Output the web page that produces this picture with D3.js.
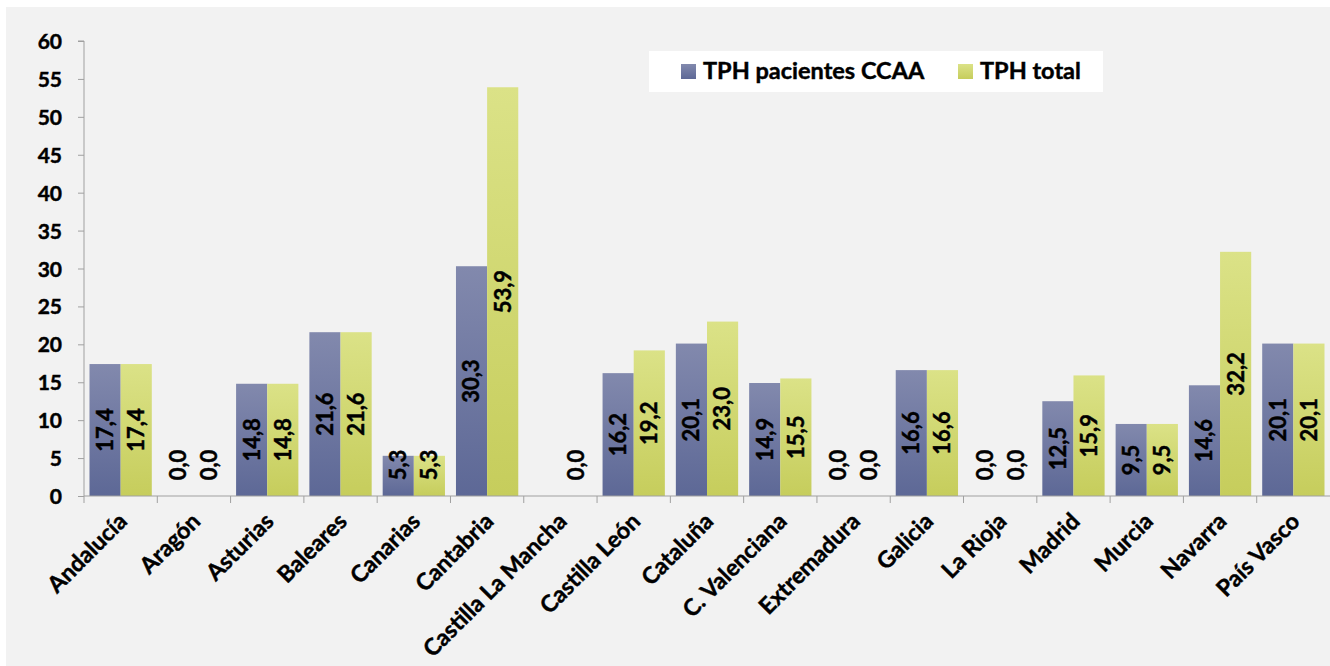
<!DOCTYPE html>
<html>
<head>
<meta charset="utf-8">
<script src="https://cdn.jsdelivr.net/npm/d3@7"></script>
<style>
  body { margin: 0; background: #fff; }
  text { font-family: Lato, "Open Sans", sans-serif; font-weight: bold; fill: #000;
         stroke: #000; stroke-width: 0.45px; }
</style>
</head>
<body>
<svg id="chart" width="1330" height="666"></svg>
<script>
var categories = ["Andalucía", "Aragón", "Asturias", "Baleares", "Canarias", "Cantabria",
  "Castilla La Mancha", "Castilla León", "Cataluña", "C. Valenciana", "Extremadura",
  "Galicia", "La Rioja", "Madrid", "Murcia", "Navarra", "País Vasco"];
var tphPacientes = [17.4, 0.0, 14.8, 21.6, 5.3, 30.3, null, 16.2, 20.1, 14.9, 0.0, 16.6, 0.0, 12.5, 9.5, 14.6, 20.1];
var tphTotal = [17.4, 0.0, 14.8, 21.6, 5.3, 53.9, 0.0, 19.2, 23.0, 15.5, 0.0, 16.6, 0.0, 15.9, 9.5, 32.2, 20.1];
var seriesNames = ["TPH pacientes CCAA", "TPH total"];
var yTicks = [0, 5, 10, 15, 20, 25, 30, 35, 40, 45, 50, 55, 60];

var svg = d3.select("#chart"),
    margin = {top: 41, right: 0, bottom: 170, left: 84},
    width = +svg.attr("width") - margin.left - margin.right,
    height = +svg.attr("height") - margin.top - margin.bottom;

// background panel
svg.append("rect")
  .attr("x", 6).attr("y", 7)
  .attr("width", 1330 - 6).attr("height", 666 - 7)
  .attr("fill", "#f2f2f2");

var defs = svg.append("defs");
var grads = [["gBlue", "#8289ad", "#5d6896"], ["gYel", "#dbe287", "#c6cd5c"]];
grads.forEach(function(g) {
  var lg = defs.append("linearGradient").attr("id", g[0])
    .attr("x1", 0).attr("y1", 0).attr("x2", 0).attr("y2", 1);
  lg.append("stop").attr("offset", "0%").attr("stop-color", g[1]);
  lg.append("stop").attr("offset", "100%").attr("stop-color", g[2]);
});
var fills = ["url(#gBlue)", "url(#gYel)"];

var x0 = d3.scaleBand().domain(categories).range([0, width]).paddingInner(0).paddingOuter(0);
var x1 = d3.scaleBand().domain([0, 1]).range([5.5, x0.bandwidth() - 5.5]);
var y = d3.scaleLinear().domain([0, 60]).range([height, 0]);

var g = svg.append("g").attr("transform", "translate(" + margin.left + "," + margin.top + ")");

var data = categories.map(function(c, i) {
  return {cat: c, vals: [tphPacientes[i], tphTotal[i]]};
});

var groups = g.selectAll(".grp").data(data).enter().append("g")
  .attr("class", "grp")
  .attr("transform", function(d) { return "translate(" + x0(d.cat) + ",0)"; });

groups.selectAll("rect").data(function(d) {
    return d.vals.map(function(v, j) { return {v: v, j: j}; });
  }).enter().append("rect")
  .filter(function(d) { return d.v !== null && d.v > 0; })
  .attr("x", function(d) { return x1(d.j); })
  .attr("y", function(d) { return y(d.v); })
  .attr("width", x1.bandwidth())
  .attr("height", function(d) { return height - y(d.v); })
  .attr("fill", function(d) { return fills[d.j]; });

// value labels, rotated
groups.selectAll(".lbl").data(function(d) {
    return d.vals.map(function(v, j) { return {v: v, j: j}; }).filter(function(e) { return e.v !== null; });
  }).enter().append("text")
  .attr("class", "lbl")
  .attr("transform", function(d) {
    var cx = x1(d.j) + x1.bandwidth() / 2;
    var cy = Math.min((y(d.v) + height) / 2, height - 31);
    return "translate(" + cx + "," + cy + ") rotate(-90)";
  })
  .attr("text-anchor", "middle")
  .attr("dy", "0.36em")
  .style("font-size", "22px")
  .text(function(d) { return d3.format(".1f")(d.v).replace(".", ","); });

// y axis
var yAxis = g.append("g").attr("class", "axis")
  .call(d3.axisLeft(y).tickValues(yTicks).tickSize(6).tickPadding(16));
yAxis.select(".domain").attr("stroke", "#a0a0a0").attr("d", "M0," + height + "V0H-6");
yAxis.selectAll(".tick line").attr("stroke", "#a0a0a0");
yAxis.selectAll(".tick text").style("font-size", "21px").attr("dy", "0.36em");

// x axis with ticks at category boundaries
var xAxis = g.append("g").attr("transform", "translate(0," + height + ")");
xAxis.append("line").attr("x1", 0).attr("x2", width).attr("y1", 0).attr("y2", 0)
  .attr("stroke", "#a0a0a0");
xAxis.selectAll(".xt").data(categories).enter().append("line")
  .attr("x1", function(d) { return x0(d); }).attr("x2", function(d) { return x0(d); })
  .attr("y1", 0).attr("y2", 7).attr("stroke", "#a0a0a0");

xAxis.selectAll(".xl").data(categories).enter().append("text")
  .attr("transform", function(d) {
    return "translate(" + (x0(d) + x0.bandwidth() / 2 + 2) + ",21) rotate(-45)";
  })
  .attr("text-anchor", "end")
  .attr("dy", "0.36em")
  .style("font-size", "23px")
  .text(function(d) { return d; });

// legend
var leg = svg.append("g");
leg.append("rect").attr("x", 649).attr("y", 51).attr("width", 454).attr("height", 41).attr("fill", "#fff");
var legX = [681, 958];
seriesNames.forEach(function(s, i) {
  leg.append("rect").attr("x", legX[i]).attr("y", 64).attr("width", 15).attr("height", 15).attr("fill", fills[i]);
  leg.append("text").attr("x", legX[i] + 22).attr("y", 79).style("font-size", "23.5px").text(s);
});
</script>
</body>
</html>
